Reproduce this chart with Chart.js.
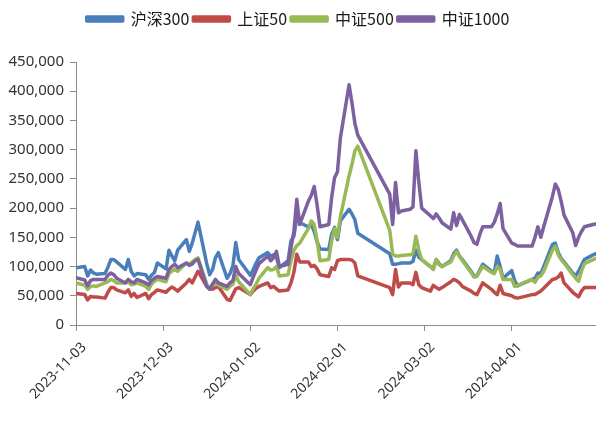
<!DOCTYPE html>
<html lang="zh">
<head>
<meta charset="UTF-8" />
<title>股指期货成交量</title>
<style>
  html, body { margin: 0; padding: 0; background: #fff; }
  #wrap { width: 596px; height: 423px; }
</style>
</head>
<body>
<div id="wrap"><canvas id="myChart" width="596" height="423"></canvas></div>
<script src="https://cdn.jsdelivr.net/npm/chart.js"></script>
<script>
// trading days
const dates = [
  "2023-11-03","2023-11-06","2023-11-07","2023-11-08","2023-11-09","2023-11-10",
  "2023-11-13","2023-11-14","2023-11-15","2023-11-16","2023-11-17",
  "2023-11-20","2023-11-21","2023-11-22","2023-11-23","2023-11-24",
  "2023-11-27","2023-11-28","2023-11-29","2023-11-30","2023-12-01",
  "2023-12-04","2023-12-05","2023-12-06","2023-12-07","2023-12-08",
  "2023-12-11","2023-12-12","2023-12-13","2023-12-14","2023-12-15",
  "2023-12-18","2023-12-19","2023-12-20","2023-12-21","2023-12-22",
  "2023-12-25","2023-12-26","2023-12-27","2023-12-28","2023-12-29",
  "2024-01-02","2024-01-03","2024-01-04","2024-01-05",
  "2024-01-08","2024-01-09","2024-01-10","2024-01-11","2024-01-12",
  "2024-01-15","2024-01-16","2024-01-17","2024-01-18","2024-01-19",
  "2024-01-22","2024-01-23","2024-01-24","2024-01-25","2024-01-26",
  "2024-01-29","2024-01-30","2024-01-31","2024-02-01","2024-02-02",
  "2024-02-05","2024-02-06","2024-02-07","2024-02-08",
  "2024-02-19","2024-02-20","2024-02-21","2024-02-22","2024-02-23",
  "2024-02-26","2024-02-27","2024-02-28","2024-02-29","2024-03-01",
  "2024-03-04","2024-03-05","2024-03-06","2024-03-07","2024-03-08",
  "2024-03-11","2024-03-12","2024-03-13","2024-03-14","2024-03-15",
  "2024-03-18","2024-03-19","2024-03-20","2024-03-21","2024-03-22",
  "2024-03-25","2024-03-26","2024-03-27","2024-03-28","2024-03-29",
  "2024-04-01","2024-04-02","2024-04-03",
  "2024-04-08","2024-04-09","2024-04-10","2024-04-11","2024-04-12",
  "2024-04-15","2024-04-16","2024-04-17","2024-04-18","2024-04-19",
  "2024-04-22","2024-04-23","2024-04-24","2024-04-25","2024-04-26",
  "2024-04-29","2024-04-30"
];

const hs300 = [
  98000,100000,84000,94000,89000,87000,88000,99000,112000,112000,108000,95000,112000,92000,84000,88000,86000,78000,85000,90000,
  106000,96000,128000,118000,110000,128000,146000,126000,140000,158000,176000,105000,86000,95000,115000,124000,80000,88000,101000,141000,112000,
  85000,95000,106000,115000,124000,118000,120000,116000,98000,110000,144000,152000,184000,175000,168000,172000,160000,142000,130000,
  129000,155000,167000,146000,178000,198000,190000,180000,157000,
  122000,104000,104000,105000,106000,106000,109000,128000,116000,
  112000,100000,97000,112000,105000,100000,110000,122000,128000,118000,112000,92000,84000,84000,94000,104000,92000,90000,118000,100000,80000,
  93000,76000,67000,78000,80000,89000,88000,100000,138000,140000,124000,114000,108000,89000,84000,92000,102000,112000,120000,122000
];

const sz50 = [
  54000,52000,43000,49000,48000,48000,46000,56000,64000,64000,60000,55000,60000,49000,54000,47000,54000,45000,52000,56000,
  60000,56000,61000,65000,62000,58000,72000,78000,72000,82000,92000,66000,63000,61000,64000,66000,44000,42000,52000,62000,64000,
  52000,58000,63000,66000,72000,64000,66000,62000,58000,60000,72000,90000,121000,108000,108000,100000,102000,96000,86000,
  83000,98000,95000,110000,112000,112000,111000,106000,84000,
  64000,52000,95000,65000,72000,72000,69000,90000,69000,
  64000,58000,68000,64000,61000,64000,74000,78000,76000,72000,66000,58000,54000,52000,62000,72000,61000,56000,52000,68000,54000,
  50000,47000,46000,52000,52000,55000,58000,63000,78000,79000,82000,89000,72000,56000,52000,48000,58000,64000,64000,64000
];

const zz500 = [
  72000,68000,61000,66000,67000,66000,72000,74000,78000,76000,72000,72000,74000,69000,70000,72000,66000,61000,70000,75000,
  78000,74000,88000,92000,95000,92000,106000,104000,108000,112000,115000,70000,62000,68000,72000,68000,61000,66000,70000,85000,74000,
  52000,62000,70000,80000,98000,94000,95000,100000,84000,86000,110000,128000,136000,140000,165000,178000,172000,144000,110000,
  112000,144000,165000,150000,185000,255000,275000,298000,306000,
  162000,121000,118000,118000,119000,120000,122000,152000,128000,
  112000,100000,95000,112000,103000,100000,108000,118000,126000,118000,110000,90000,82000,83000,92000,100000,90000,88000,100000,95000,78000,
  78000,66000,68000,78000,73000,82000,84000,92000,128000,135000,120000,112000,106000,86000,80000,75000,92000,105000,112000,114000
];

const zz1000 = [
  81000,77000,67000,76000,78000,78000,78000,85000,89000,86000,80000,72000,78000,74000,72000,78000,72000,69000,76000,80000,
  83000,80000,95000,100000,104000,98000,106000,102000,104000,110000,112000,66000,61000,70000,78000,72000,66000,72000,76000,100000,88000,
  69000,82000,94000,105000,118000,110000,115000,126000,100000,104000,132000,160000,215000,172000,212000,222000,237000,205000,168000,
  172000,218000,252000,262000,320000,411000,380000,345000,325000,
  224000,172000,244000,192000,195000,198000,202000,298000,245000,
  200000,187000,182000,190000,183000,175000,164000,192000,170000,189000,180000,152000,141000,138000,155000,168000,168000,176000,190000,208000,165000,
  140000,138000,135000,135000,150000,168000,150000,168000,220000,241000,232000,212000,188000,158000,136000,150000,160000,168000,172000,173000
];

const seriesNames = ["沪深300", "上证50", "中证500", "中证1000"];
const tickLabels = ["2023-11-03","2023-12-03","2024-01-02","2024-02-01","2024-03-02","2024-04-01"];
const axisStart = "2023-11-03";
const axisEnd = "2024-04-30";

function toDay(s) {
  return Math.round((Date.parse(s) - Date.parse(axisStart)) / 86400000);
}
function pts(vals) {
  return vals.map((v, i) => ({ x: toDay(dates[i]), y: v }));
}

const colors = ["#4a7ebb", "#be4b48", "#98b954", "#7d60a0"];
const allSeries = [hs300, sz50, zz500, zz1000];

// legend box sits a bit lower and the plot starts at y=63
const legendSpace = {
  id: "legendSpace",
  beforeInit(chart) {
    const fit = chart.legend.fit;
    chart.legend.fit = function () {
      fit.bind(chart.legend)();
      this.height = 55;
    };
  }
};

const ctx = document.getElementById("myChart").getContext("2d");
new Chart(ctx, {
  type: "line",
  data: {
    datasets: allSeries.map((vals, i) => ({
      label: seriesNames[i],
      data: pts(vals),
      borderColor: colors[i],
      backgroundColor: colors[i],
      borderWidth: 3.5,
      pointRadius: 0,
      tension: 0,
      borderJoinStyle: "round",
      borderCapStyle: "round",
      order: 4 - i
    }))
  },
  options: {
    responsive: false,
    animation: false,
    layout: { padding: { top: 7, left: 0, right: 0, bottom: 0 } },
    plugins: {
      tooltip: { enabled: false },
      legend: {
        position: "top",
        reverse: true,
        labels: {
          boxWidth: 36,
          boxHeight: 4,
          padding: 4,
          color: "#1a1a1a",
          font: { family: "'Noto Sans CJK SC', 'Noto Sans'", size: 16 }
        }
      }
    },
    scales: {
      x: {
        type: "linear",
        min: 0,
        max: toDay(axisEnd),
        afterBuildTicks: (scale) => {
          scale.ticks = tickLabels.map((t) => ({ value: toDay(t) }));
        },
        afterFit: (scale) => { scale.height = 98; },
        ticks: {
          autoSkip: false,
          minRotation: 45,
          maxRotation: 45,
          padding: 8,
          labelOffset: 8,
          color: "#333333",
          font: { family: "'Noto Sans'", size: 14 },
          callback: (v, i) => tickLabels[i]
        },
        grid: { drawOnChartArea: false, tickLength: 6, color: "#8c8c8c" },
        border: { color: "#8c8c8c", width: 1 }
      },
      y: {
        min: 0,
        max: 450000,
        afterFit: (scale) => { scale.width = 76; },
        ticks: {
          stepSize: 50000,
          padding: 6,
          color: "#333333",
          font: { family: "'Noto Sans'", size: 15 },
          callback: (v) => v.toLocaleString("en-US")
        },
        grid: { drawOnChartArea: false, tickLength: 6, color: "#8c8c8c" },
        border: { color: "#8c8c8c", width: 1 }
      }
    }
  },
  plugins: [legendSpace]
});
</script>
</body>
</html>
